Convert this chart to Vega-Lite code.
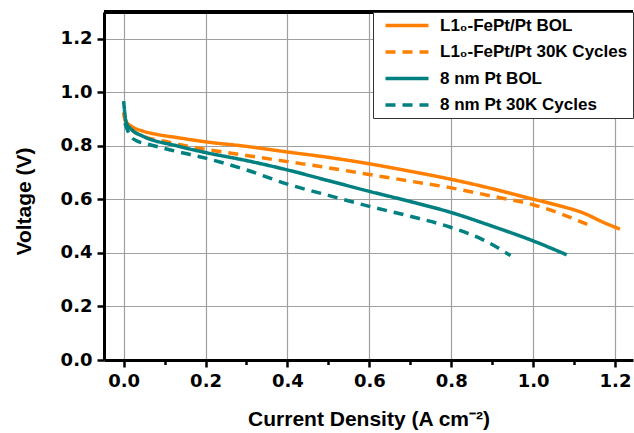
{
  "$schema": "https://vega.github.io/schema/vega-lite/v6.json",
  "width": 529,
  "height": 348,
  "autosize": {"type": "none"},
  "padding": {"left": 104, "top": 12, "right": 1, "bottom": 73},
  "background": "white",
  "config": {
    "view": {"stroke": null},
    "axis": {
      "domainColor": "black",
      "domainWidth": 3,
      "tickColor": "black",
      "tickWidth": 2.5,
      "gridColor": "#a0a0a0",
      "gridWidth": 1.2,
      "labelFont": "DejaVu Sans",
      "labelFontWeight": "bold",
      "labelFontSize": 18,
      "labelColor": "black",
      "titleFont": "Liberation Sans",
      "titleFontWeight": "bold",
      "titleFontSize": 21,
      "titleColor": "black"
    },
    "legend": {
      "labelFont": "Liberation Sans",
      "labelFontWeight": "bold",
      "labelFontSize": 17,
      "labelColor": "black",
      "labelLimit": 400
    }
  },
  "data": {
    "values": [
      {"series": "L1₀-FePt/Pt BOL", "J": 0.0, "V": 0.925},
      {"series": "L1₀-FePt/Pt BOL", "J": 0.003, "V": 0.9},
      {"series": "L1₀-FePt/Pt BOL", "J": 0.0065, "V": 0.89},
      {"series": "L1₀-FePt/Pt BOL", "J": 0.02, "V": 0.872},
      {"series": "L1₀-FePt/Pt BOL", "J": 0.047, "V": 0.855},
      {"series": "L1₀-FePt/Pt BOL", "J": 0.08, "V": 0.843},
      {"series": "L1₀-FePt/Pt BOL", "J": 0.13, "V": 0.831},
      {"series": "L1₀-FePt/Pt BOL", "J": 0.2, "V": 0.815},
      {"series": "L1₀-FePt/Pt BOL", "J": 0.3, "V": 0.798},
      {"series": "L1₀-FePt/Pt BOL", "J": 0.4, "V": 0.777},
      {"series": "L1₀-FePt/Pt BOL", "J": 0.5, "V": 0.757},
      {"series": "L1₀-FePt/Pt BOL", "J": 0.6, "V": 0.733},
      {"series": "L1₀-FePt/Pt BOL", "J": 0.7, "V": 0.705},
      {"series": "L1₀-FePt/Pt BOL", "J": 0.8, "V": 0.675},
      {"series": "L1₀-FePt/Pt BOL", "J": 0.9, "V": 0.64},
      {"series": "L1₀-FePt/Pt BOL", "J": 1.0, "V": 0.601},
      {"series": "L1₀-FePt/Pt BOL", "J": 1.06, "V": 0.578},
      {"series": "L1₀-FePt/Pt BOL", "J": 1.123, "V": 0.549},
      {"series": "L1₀-FePt/Pt BOL", "J": 1.172, "V": 0.514},
      {"series": "L1₀-FePt/Pt BOL", "J": 1.212, "V": 0.489},

      {"series": "L1₀-FePt/Pt 30K Cycles", "J": 0.0, "V": 0.922},
      {"series": "L1₀-FePt/Pt 30K Cycles", "J": 0.005, "V": 0.89},
      {"series": "L1₀-FePt/Pt 30K Cycles", "J": 0.02, "V": 0.86},
      {"series": "L1₀-FePt/Pt 30K Cycles", "J": 0.05, "V": 0.835},
      {"series": "L1₀-FePt/Pt 30K Cycles", "J": 0.1, "V": 0.817},
      {"series": "L1₀-FePt/Pt 30K Cycles", "J": 0.2, "V": 0.787},
      {"series": "L1₀-FePt/Pt 30K Cycles", "J": 0.3, "V": 0.764},
      {"series": "L1₀-FePt/Pt 30K Cycles", "J": 0.4, "V": 0.741},
      {"series": "L1₀-FePt/Pt 30K Cycles", "J": 0.5, "V": 0.718},
      {"series": "L1₀-FePt/Pt 30K Cycles", "J": 0.6, "V": 0.693},
      {"series": "L1₀-FePt/Pt 30K Cycles", "J": 0.7, "V": 0.668},
      {"series": "L1₀-FePt/Pt 30K Cycles", "J": 0.8, "V": 0.643},
      {"series": "L1₀-FePt/Pt 30K Cycles", "J": 0.9, "V": 0.612},
      {"series": "L1₀-FePt/Pt 30K Cycles", "J": 1.0, "V": 0.58},
      {"series": "L1₀-FePt/Pt 30K Cycles", "J": 1.07, "V": 0.545},
      {"series": "L1₀-FePt/Pt 30K Cycles", "J": 1.139, "V": 0.502},

      {"series": "8 nm Pt BOL", "J": 0.0, "V": 0.967},
      {"series": "8 nm Pt BOL", "J": 0.003, "V": 0.92},
      {"series": "8 nm Pt BOL", "J": 0.0065, "V": 0.886},
      {"series": "8 nm Pt BOL", "J": 0.02, "V": 0.86},
      {"series": "8 nm Pt BOL", "J": 0.047, "V": 0.836},
      {"series": "8 nm Pt BOL", "J": 0.13, "V": 0.8},
      {"series": "8 nm Pt BOL", "J": 0.2, "V": 0.775},
      {"series": "8 nm Pt BOL", "J": 0.3, "V": 0.745},
      {"series": "8 nm Pt BOL", "J": 0.4, "V": 0.71},
      {"series": "8 nm Pt BOL", "J": 0.5, "V": 0.67},
      {"series": "8 nm Pt BOL", "J": 0.6, "V": 0.63},
      {"series": "8 nm Pt BOL", "J": 0.7, "V": 0.592},
      {"series": "8 nm Pt BOL", "J": 0.8, "V": 0.551},
      {"series": "8 nm Pt BOL", "J": 0.9, "V": 0.5},
      {"series": "8 nm Pt BOL", "J": 1.0, "V": 0.445},
      {"series": "8 nm Pt BOL", "J": 1.082, "V": 0.393},

      {"series": "8 nm Pt 30K Cycles", "J": 0.003, "V": 0.885},
      {"series": "8 nm Pt 30K Cycles", "J": 0.015, "V": 0.84},
      {"series": "8 nm Pt 30K Cycles", "J": 0.03, "V": 0.82},
      {"series": "8 nm Pt 30K Cycles", "J": 0.06, "V": 0.806},
      {"series": "8 nm Pt 30K Cycles", "J": 0.13, "V": 0.779},
      {"series": "8 nm Pt 30K Cycles", "J": 0.2, "V": 0.754},
      {"series": "8 nm Pt 30K Cycles", "J": 0.3, "V": 0.71},
      {"series": "8 nm Pt 30K Cycles", "J": 0.4, "V": 0.657},
      {"series": "8 nm Pt 30K Cycles", "J": 0.5, "V": 0.615},
      {"series": "8 nm Pt 30K Cycles", "J": 0.6, "V": 0.574},
      {"series": "8 nm Pt 30K Cycles", "J": 0.7, "V": 0.537},
      {"series": "8 nm Pt 30K Cycles", "J": 0.8, "V": 0.495},
      {"series": "8 nm Pt 30K Cycles", "J": 0.878, "V": 0.449},
      {"series": "8 nm Pt 30K Cycles", "J": 0.945, "V": 0.39}
    ]
  },
  "layer": [
    {
      "mark": {"type": "line", "strokeWidth": 3.5, "interpolate": "monotone"},
      "encoding": {
        "x": {
          "field": "J",
          "type": "quantitative",
          "scale": {"domain": [-0.048, 1.244], "nice": false, "zero": false},
          "axis": {
            "title": "Current Density (A cm⁻²)",
            "values": [0, 0.1, 0.2, 0.3, 0.4, 0.5, 0.6, 0.7, 0.8, 0.9, 1.0, 1.1, 1.2],
            "labelExpr": "round(datum.value*10)%2==0 ? format(datum.value,'.1f') : ''",
            "tickSize": {"condition": {"test": "round(datum.value*10)%2==0", "value": 7}, "value": 4.5},
            "gridOpacity": {"condition": {"test": "round(datum.value*10)%2==0", "value": 1}, "value": 0},
            "grid": true,
            "labelPadding": 5,
            "titlePadding": 18,
            "labelFlush": false,
            "labelOverlap": false
          }
        },
        "y": {
          "field": "V",
          "type": "quantitative",
          "scale": {"domain": [0, 1.3], "nice": false},
          "axis": {
            "title": "Voltage (V)",
            "titleY": 189,
            "values": [0, 0.1, 0.2, 0.3, 0.4, 0.5, 0.6, 0.7, 0.8, 0.9, 1.0, 1.1, 1.2, 1.3],
            "labelExpr": "round(datum.value*10)%2==0 ? format(datum.value,'.1f') : ''",
            "tickSize": {"condition": {"test": "round(datum.value*10)%2==0", "value": 7}, "value": 4.5},
            "gridOpacity": {"condition": {"test": "round(datum.value*10)%2==0 && datum.value > 0.05", "value": 1}, "value": 0},
            "grid": true,
            "labelPadding": 5,
            "titlePadding": 26,
            "labelFlush": false,
            "labelOverlap": false
          }
        },
        "color": {
          "field": "series",
          "type": "nominal",
          "scale": {
            "domain": ["L1₀-FePt/Pt BOL", "L1₀-FePt/Pt 30K Cycles", "8 nm Pt BOL", "8 nm Pt 30K Cycles"],
            "range": ["#FF8000", "#FF8000", "#008080", "#008080"]
          },
          "legend": {
            "title": null,
            "orient": "top-right",
            "offset": 0,
            "padding": 5,
            "rowPadding": 8.5,
            "fillColor": "white",
            "strokeColor": "#333333",
            "symbolType": "M-4.3,0H4.3",
            "symbolSize": 100,
            "symbolStrokeWidth": 3.5,
            "symbolOffset": 20.5,
            "labelOffset": 24.5
          }
        },
        "strokeDash": {
          "field": "series",
          "type": "nominal",
          "scale": {
            "domain": ["L1₀-FePt/Pt BOL", "L1₀-FePt/Pt 30K Cycles", "8 nm Pt BOL", "8 nm Pt 30K Cycles"],
            "range": [[1, 0], [10, 7], [1, 0], [10, 7]]
          },
          "legend": {
            "title": null,
            "orient": "top-right",
            "offset": 0,
            "padding": 5,
            "rowPadding": 8.5,
            "fillColor": "white",
            "strokeColor": "#333333",
            "symbolType": "M-4.3,0H4.3",
            "symbolSize": 100,
            "symbolStrokeWidth": 3.5,
            "symbolOffset": 20.5,
            "labelOffset": 24.5
          }
        }
      }
    },
    {
      "mark": {"type": "rule", "color": "black", "strokeWidth": 2.5},
      "encoding": {"y": {"datum": 1.3}}
    }
  ]
}
